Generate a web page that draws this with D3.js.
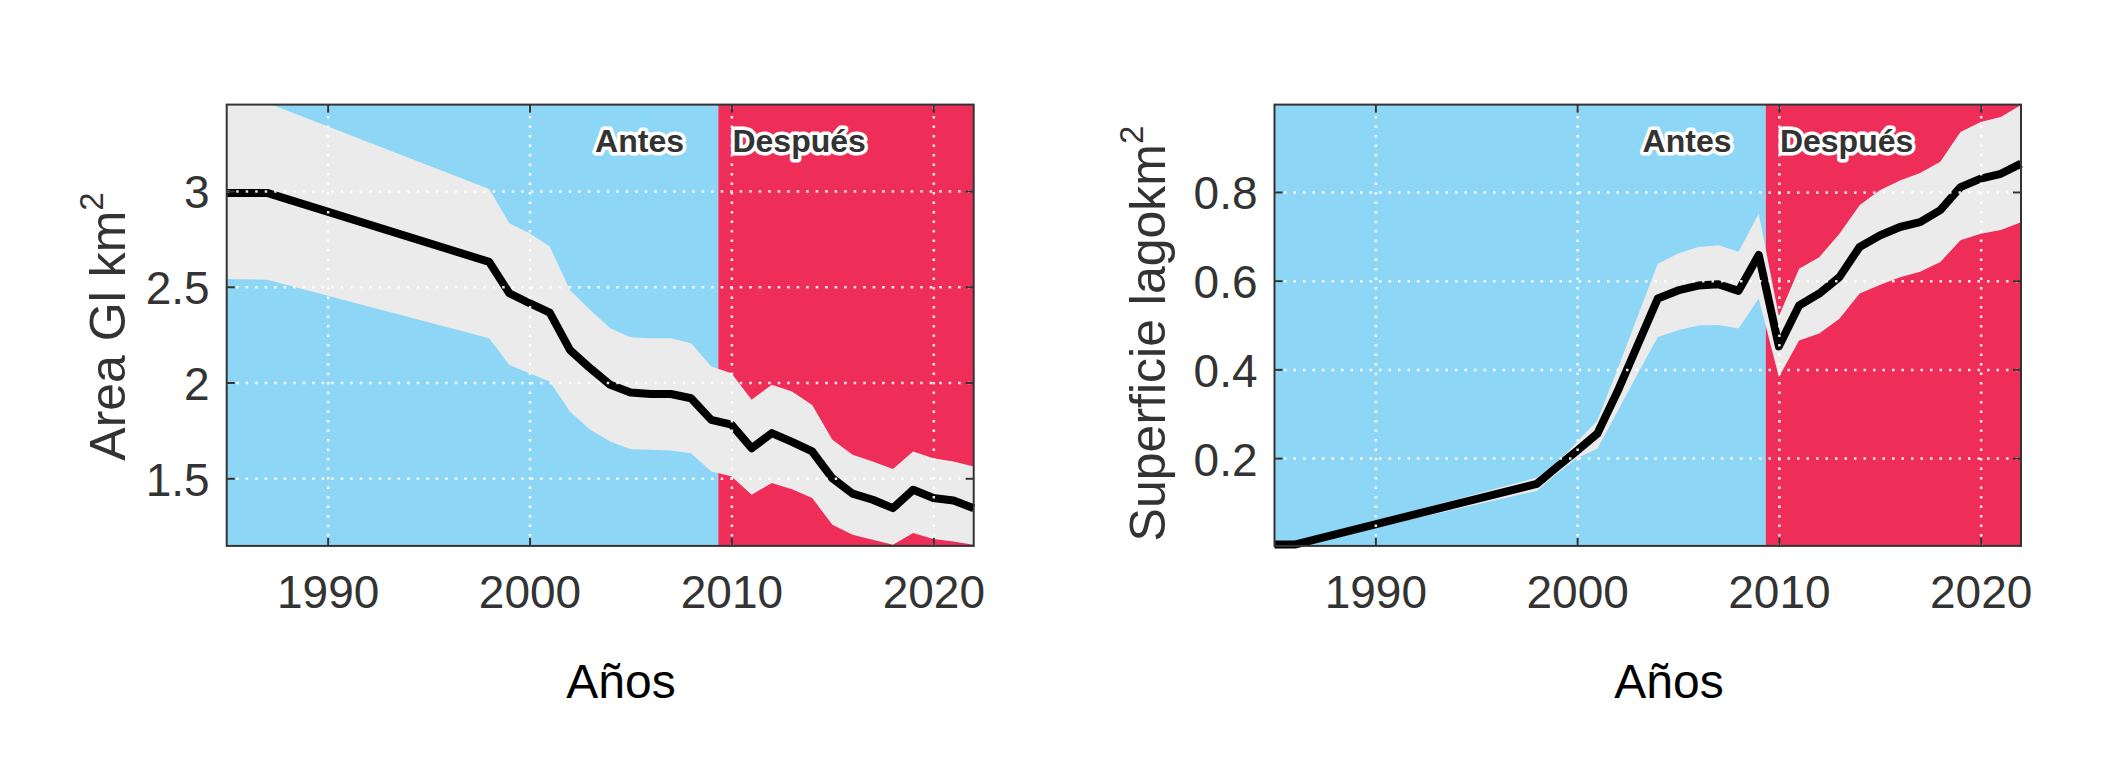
<!DOCTYPE html>
<html>
<head>
<meta charset="utf-8">
<script src="https://cdn.jsdelivr.net/npm/d3@7"></script>
<style>
  html, body { margin: 0; padding: 0; background: #ffffff; }
  svg { display: block; }
</style>
</head>
<body>
<svg id="chart" width="2103" height="762"></svg>
<script>
// ---------- DATA ----------
const glacierYears = [1985, 1987, 1998, 1999, 2000, 2001, 2002, 2003, 2004, 2005, 2006, 2007, 2008, 2009, 2010, 2011, 2012, 2013, 2014, 2015, 2016, 2017, 2018, 2019, 2020, 2021, 2022];
const glacierArea = [2.99, 2.99, 2.63, 2.466, 2.414, 2.365, 2.17, 2.075, 1.988, 1.948, 1.94, 1.94, 1.918, 1.805, 1.78, 1.657, 1.736, 1.69, 1.64, 1.50, 1.42, 1.388, 1.344, 1.44, 1.397, 1.384, 1.344];
const glacierUpper = [3.47, 3.46, 3.01, 2.831, 2.779, 2.71, 2.483, 2.379, 2.283, 2.236, 2.231, 2.231, 2.205, 2.083, 2.049, 1.91, 1.988, 1.953, 1.883, 1.701, 1.623, 1.588, 1.548, 1.64, 1.605, 1.588, 1.562];
const glacierLower = [2.541, 2.536, 2.231, 2.092, 2.049, 2.005, 1.849, 1.753, 1.692, 1.652, 1.649, 1.645, 1.631, 1.536, 1.51, 1.414, 1.475, 1.443, 1.397, 1.257, 1.205, 1.179, 1.153, 1.214, 1.183, 1.17, 1.153];

const lakeYears = [1985, 1986, 1998, 1999, 2000, 2001, 2002, 2003, 2004, 2005, 2006, 2007, 2008, 2009, 2010, 2011, 2012, 2013, 2014, 2015, 2016, 2017, 2018, 2019, 2020, 2021, 2022];
const lakeArea = [0.005, 0.005, 0.142, 0.18, 0.217, 0.255, 0.35, 0.455, 0.56, 0.578, 0.589, 0.592, 0.577, 0.658, 0.452, 0.544, 0.571, 0.608, 0.676, 0.702, 0.721, 0.732, 0.759, 0.811, 0.830, 0.841, 0.864];
const lakeUpper = [0.008, 0.008, 0.156, 0.19, 0.236, 0.285, 0.40, 0.52, 0.638, 0.661, 0.676, 0.68, 0.665, 0.751, 0.52, 0.627, 0.653, 0.706, 0.770, 0.804, 0.826, 0.843, 0.868, 0.935, 0.958, 0.969, 0.996];
const lakeLower = [0.002, 0.002, 0.126, 0.165, 0.2, 0.221, 0.305, 0.39, 0.473, 0.488, 0.499, 0.5, 0.492, 0.56, 0.383, 0.465, 0.481, 0.514, 0.571, 0.590, 0.608, 0.620, 0.642, 0.691, 0.706, 0.714, 0.732];

const xTicks = [1990, 2000, 2010, 2020];
const glacierYTicks = [1.5, 2, 2.5, 3];
const lakeYTicks = [0.2, 0.4, 0.6, 0.8];
const splitYear = 2009.35;
const periodLabels = ["Antes", "Después"];
const xTitle = "Años";

// ---------- STYLE / LAYOUT ----------
const C = {
  before: "rgb(142,214,245)",
  after: "rgb(238,46,89)",
  band: "#ebebeb",
  axis: "#333333",
  text: "#333333"
};
const svg = d3.select("#chart");
const top0 = 104.6, bottom0 = 545.9;

function panel(cfg) {
  const { left, right, years, mean, upper, lower, yDomain, yTicks, yFormat, yTitleMain, yTitleX, yTitleY, xTitleX, id } = cfg;
  const W = right - left, H = bottom0 - top0;
  const g = svg.append("g").attr("transform", `translate(${left},${top0})`);
  const x = d3.scaleLinear().domain([1985, 2022]).range([0, W]);
  const y = d3.scaleLinear().domain(yDomain).range([H, 0]);

  g.append("clipPath").attr("id", "clip" + id)
    .append("rect").attr("width", W).attr("height", H);

  // backgrounds
  g.append("rect").attr("x", x(1985)).attr("y", 0)
    .attr("width", x(splitYear) - x(1985)).attr("height", H).attr("fill", C.before);
  g.append("rect").attr("x", x(splitYear)).attr("y", 0)
    .attr("width", x(2022) - x(splitYear)).attr("height", H).attr("fill", C.after);

  const rows = years.map((yr, i) => ({ yr, m: mean[i], u: upper[i], l: lower[i] }));

  // uncertainty band
  g.append("path").datum(rows)
    .attr("clip-path", `url(#clip${id})`)
    .attr("fill", C.band)
    .attr("d", d3.area().x(d => x(d.yr)).y0(d => y(d.l)).y1(d => y(d.u)));

  // mean line
  g.append("path").datum(rows)
    .attr("fill", "none").attr("stroke", "#000").attr("stroke-width", 8)
    .attr("stroke-linejoin", "round")
    .attr("d", d3.line().x(d => x(d.yr)).y(d => y(d.m)));

  // grid (on top, dotted white)
  const gx = g.append("g").attr("transform", `translate(0,${H})`)
    .call(d3.axisBottom(x).tickValues(xTicks).tickSize(-H).tickFormat(""));
  const gy = g.append("g")
    .call(d3.axisLeft(y).tickValues(yTicks).tickSize(-W).tickFormat(""));
  [gx, gy].forEach(a => {
    a.select(".domain").remove();
    a.selectAll("line").attr("stroke", "rgba(255,255,255,0.9)")
      .attr("stroke-width", 2.5).attr("stroke-dasharray", "2.5,7");
  });

  // period labels
  const lab = g.append("g")
    .attr("font-family", "Liberation Sans, Arial, sans-serif")
    .attr("font-weight", "bold").attr("font-size", 32);
  [[periodLabels[0], splitYear - 1.7, "end"], [periodLabels[1], 2010.05, "start"]].forEach(([t, xv, anc]) => {
    lab.append("text").attr("x", x(xv)).attr("y", 47).attr("text-anchor", anc)
      .attr("fill", C.text).attr("stroke", "#fff").attr("stroke-width", 7)
      .attr("stroke-linejoin", "round").attr("paint-order", "stroke")
      .text(t);
  });

  // axes with inward ticks (all four sides)
  const tickLen = 8;
  const axB = g.append("g").attr("transform", `translate(0,${H})`)
    .call(d3.axisBottom(x).tickValues(xTicks).tickSize(-tickLen).tickPadding(0).tickFormat(d3.format("d")));
  const axT = g.append("g")
    .call(d3.axisTop(x).tickValues(xTicks).tickSize(-tickLen).tickFormat(""));
  const axL = g.append("g")
    .call(d3.axisLeft(y).tickValues(yTicks).tickSize(-tickLen).tickPadding(17).tickFormat(yFormat));
  const axR = g.append("g").attr("transform", `translate(${W},0)`)
    .call(d3.axisRight(y).tickValues(yTicks).tickSize(-tickLen).tickFormat(""));
  [axB, axT, axL, axR].forEach(a => {
    a.select(".domain").remove();
    a.selectAll("line").attr("stroke", C.axis).attr("stroke-width", 2);
    a.selectAll("text").attr("fill", C.text)
      .attr("font-family", "Liberation Sans, Arial, sans-serif").attr("font-size", 46);
  });
  axB.selectAll("text").attr("y", 62).attr("dy", null);
  axL.selectAll("text").attr("dy", 17);

  // box
  g.append("rect").attr("width", W).attr("height", H)
    .attr("fill", "none").attr("stroke", C.axis).attr("stroke-width", 2);

  // axis titles
  const yt = svg.append("text")
    .attr("transform", `translate(${yTitleX},${yTitleY}) rotate(-90)`)
    .attr("text-anchor", "middle")
    .attr("font-family", "Liberation Sans, Arial, sans-serif").attr("font-size", 50)
    .attr("fill", C.text);
  yt.append("tspan").text(yTitleMain);
  yt.append("tspan").attr("font-size", 33).attr("dy", -22).text("2");

  svg.append("text").attr("x", xTitleX).attr("y", 698)
    .attr("text-anchor", "middle")
    .attr("font-family", "Liberation Sans, Arial, sans-serif").attr("font-size", 48)
    .attr("fill", "#000").text(xTitle);
}

panel({
  id: "a", left: 226.7, right: 973.7,
  years: glacierYears, mean: glacierArea, upper: glacierUpper, lower: glacierLower,
  yDomain: [1.147, 3.451], yTicks: glacierYTicks, yFormat: d3.format("~g"),
  yTitleMain: "Area Gl km", yTitleX: 125, yTitleY: 326.5, xTitleX: 621
});
panel({
  id: "b", left: 1274.5, right: 2021,
  years: lakeYears, mean: lakeArea, upper: lakeUpper, lower: lakeLower,
  yDomain: [0.002, 0.997], yTicks: lakeYTicks, yFormat: d3.format(".1f"),
  yTitleMain: "Superficie lagokm", yTitleX: 1165, yTitleY: 333.5, xTitleX: 1669
});
</script>
</body>
</html>
